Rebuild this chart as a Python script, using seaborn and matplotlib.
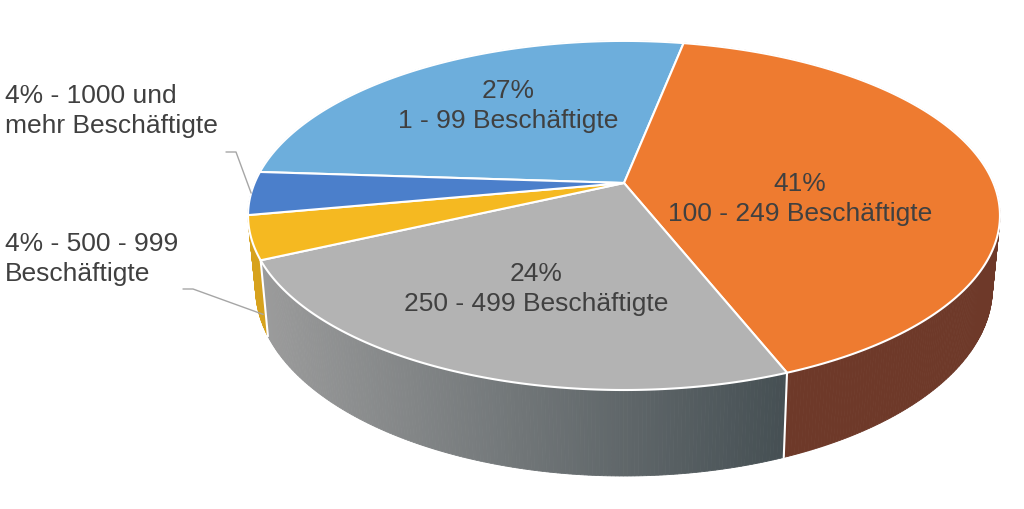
import numpy as np
import matplotlib
matplotlib.use("Agg")
import matplotlib.pyplot as plt
import matplotlib.colors as mcolors
from matplotlib.patches import Polygon
import seaborn as sns

# -------------------------------
# Data
# -------------------------------
groups = ["1 - 99", "100 - 249", "250 - 499", "500 - 999", "1000 und mehr"]
shares = [27, 41, 24, 4, 4]
top_colors = ["#6DAEDC", "#EE7B30", "#B3B3B3", "#F5B921", "#4B7FCB"]
side_dark = ["#3A5F7A", "#6E3929", "#465054", "#9A7012", "#2A4670"]

label_inside = ["27%\n1 - 99 Beschäftigte",
                "41%\n100 - 249 Beschäftigte",
                "24%\n250 - 499 Beschäftigte"]
label_outside = ["4% - 500 - 999\nBeschäftigte",
                 "4% - 1000 und\nmehr Beschäftigte"]

# -------------------------------
# View settings (pixel space)
# -------------------------------
cx, cy = 624, 183
a, b, k = 369.4, 168.5, 0.186
depth = 70
taper = 0.02
start = 273.8  # degrees clockwise from 12 o'clock

sns.set_style("white")
palette = sns.color_palette(top_colors)
plt.rcParams["font.family"] = ["Liberation Sans", "DejaVu Sans"]
txt_col = "#404040"


def project(theta, r=1.0, z=0.0):
    t = np.radians(theta)
    u = r * np.sin(t)
    v = -r * np.cos(t)
    w = 1 - k * v
    x = cx + a * u / w
    y = cy + b * v / w
    x = cx + (1 - taper * z) * (x - cx)
    y = y + z * depth / w
    return x, y


def side_color(i, x):
    t = np.clip((x - 250) / (780 - 250), 0, 1)
    light = np.array(mcolors.to_rgb(palette[i])) * 0.88
    dark = np.array(mcolors.to_rgb(side_dark[i]))
    return tuple((1 - t) * light + t * dark)


fig = plt.figure(figsize=(10.24, 5.09), dpi=100)
ax = fig.add_axes([0, 0, 1, 1])
ax.set_xlim(0, 1024)
ax.set_ylim(509, 0)
ax.axis("off")

# slice angles
bounds = start + 3.6 * np.concatenate([[0], np.cumsum(shares)])

# -------------------------------
# Side walls (far first)
# -------------------------------
quads = []
for i in range(len(shares)):
    th = np.arange(bounds[i], bounds[i + 1], 0.5)
    th = np.append(th, bounds[i + 1])
    for t1, t2 in zip(th[:-1], th[1:]):
        p1 = project(t1)
        p2 = project(t2)
        p3 = project(t2, z=1)
        p4 = project(t1, z=1)
        tm = np.radians((t1 + t2) / 2)
        quads.append((-np.cos(tm), i, [p1, p2, p3, p4]))

quads.sort(key=lambda q: q[0])
for v, i, pts in quads:
    xm = np.mean([p[0] for p in pts])
    col = side_color(i, xm)
    ax.add_patch(Polygon(pts, closed=True, facecolor=col, edgecolor=col, lw=0.6))

# white seams on the front wall
for t in bounds[:-1]:
    if -np.cos(np.radians(t)) > 0.3:
        x1, y1 = project(t)
        x2, y2 = project(t, z=1)
        ax.plot([x1, x2], [y1, y2], color="white", lw=1.5)

# -------------------------------
# Top faces
# -------------------------------
for i in range(len(shares)):
    th = np.linspace(bounds[i], bounds[i + 1], 200)
    pts = [(cx, cy)] + [project(t) for t in th]
    ax.add_patch(Polygon(pts, closed=True, facecolor=palette[i],
                         edgecolor="white", lw=1.5, joinstyle="round"))

# -------------------------------
# Labels
# -------------------------------
inside_pos = [(508, 106), (800, 199), (536, 289)]
for (x, y), s in zip(inside_pos, label_inside):
    ax.text(x, y, s, ha="center", va="center", fontsize=19, color=txt_col,
            linespacing=1.33)

# leader lines
mid_blue = (bounds[4] + bounds[5]) / 2
bx, by = project(mid_blue)
ax.plot([226, 236, bx], [152, 152, by], color="#A6A6A6", lw=1)
yx, yy = project(247, z=0.8)
ax.plot([183, 193, yx], [289, 289, yy], color="#A6A6A6", lw=1)

ax.text(5, 259, label_outside[0], ha="left", va="center", fontsize=19,
        color=txt_col, linespacing=1.33)
ax.text(5, 111, label_outside[1], ha="left", va="center", fontsize=19,
        color=txt_col, linespacing=1.33)

plt.savefig("out.png", dpi=100)
